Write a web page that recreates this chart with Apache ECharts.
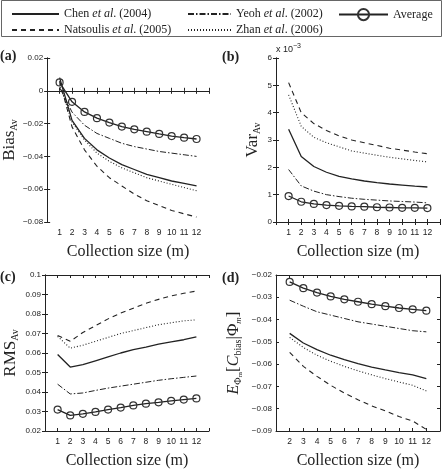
<!DOCTYPE html>
<html>
<head>
<meta charset="utf-8">
<script src="https://cdn.jsdelivr.net/npm/echarts@6/dist/echarts.min.js"></script>
<style>html,body{margin:0;padding:0;background:#fff}#c{width:443px;height:470px}</style>
</head>
<body>
<div id="c"></div>
<script>
// ---- data ----
const sizesABC = [1,2,3,4,5,6,7,8,9,10,11,12];
const sizesD = [2,3,4,5,6,7,8,9,10,11,12];
const seriesNames = ['Chen','Natsoulis','Yeoh','Zhan','Average'];
const legendLabels = {
  Chen: 'Chen {i|et al}. (2004)',
  Natsoulis: 'Natsoulis {i|et al}. (2005)',
  Yeoh: 'Yeoh {i|et al}. (2002)',
  Zhan: 'Zhan {i|et al}. (2006)',
  Average: 'Average'
};
// (a) Bias_Av
const biasChen      = [0.008,-0.018,-0.029,-0.036,-0.041,-0.045,-0.048,-0.051,-0.053,-0.055,-0.0565,-0.058];
const biasNatsoulis = [0.006,-0.022,-0.036,-0.046,-0.053,-0.058,-0.063,-0.067,-0.070,-0.073,-0.075,-0.077];
const biasYeoh      = [0.002,-0.013,-0.021,-0.026,-0.029,-0.032,-0.034,-0.0355,-0.037,-0.038,-0.039,-0.040];
const biasZhan      = [0.004,-0.019,-0.030,-0.038,-0.043,-0.047,-0.050,-0.053,-0.055,-0.057,-0.059,-0.061];
const biasAverage   = [0.0051,-0.0067,-0.0129,-0.0167,-0.0194,-0.0218,-0.0235,-0.0249,-0.0263,-0.0276,-0.0286,-0.0294];
// (b) Var_Av (x 10^-3)
const varChen      = [3.39,2.40,2.03,1.82,1.67,1.58,1.50,1.44,1.39,1.35,1.31,1.28];
const varNatsoulis = [5.10,4.00,3.60,3.35,3.15,3.00,2.90,2.80,2.70,2.63,2.56,2.50];
const varYeoh      = [1.92,1.32,1.13,1.00,0.93,0.87,0.83,0.80,0.77,0.75,0.73,0.70];
const varZhan      = [4.65,3.50,3.10,2.90,2.75,2.60,2.52,2.44,2.37,2.31,2.25,2.20];
const varAverage   = [0.95,0.74,0.66,0.62,0.59,0.57,0.56,0.54,0.53,0.52,0.52,0.51];
// (c) RMS_Av
const rmsChen      = [0.0592,0.0528,0.054,0.056,0.058,0.060,0.0617,0.063,0.0645,0.0657,0.0668,0.0683];
const rmsNatsoulis = [0.069,0.066,0.0705,0.074,0.0775,0.0805,0.083,0.0855,0.0875,0.0893,0.0906,0.0918];
const rmsYeoh      = [0.044,0.039,0.0395,0.0408,0.042,0.043,0.044,0.045,0.046,0.0468,0.0475,0.0482];
const rmsZhan      = [0.0685,0.0625,0.064,0.066,0.068,0.070,0.0715,0.073,0.0745,0.0755,0.0765,0.077];
const rmsAverage   = [0.031,0.028,0.0288,0.0298,0.031,0.032,0.0331,0.034,0.0347,0.0355,0.0361,0.0367];
// (d) E[C_bias | Phi_m]
const eChen      = [-0.0462,-0.0505,-0.0535,-0.056,-0.058,-0.0598,-0.0613,-0.0626,-0.0638,-0.0648,-0.0665];
const eNatsoulis = [-0.0547,-0.061,-0.0655,-0.0695,-0.073,-0.076,-0.0787,-0.081,-0.0835,-0.0855,-0.0893];
const eYeoh      = [-0.0313,-0.034,-0.0365,-0.038,-0.0395,-0.041,-0.042,-0.043,-0.044,-0.045,-0.0455];
const eZhan      = [-0.048,-0.0525,-0.056,-0.0587,-0.061,-0.063,-0.0648,-0.0665,-0.068,-0.0695,-0.072];
const eAverage   = [-0.0231,-0.0259,-0.0279,-0.0296,-0.0309,-0.032,-0.0331,-0.034,-0.0348,-0.0354,-0.036];

// ---- layout / styles ----
const INK = '#222';
const serif = 'Liberation Serif';
const sans = 'Liberation Sans';
const lineStyles = {
  Chen: {type:'solid', width:1.3},
  Natsoulis: {type:[5,4], width:1.1},
  Yeoh: {type:[6,2,1.5,2], width:1},
  Zhan: {type:[1,2], width:1.1},
  Average: {type:'solid', width:1.3}
};
const grids = [
  {left:45, top:58, width:164, height:164},
  {left:276, top:58, width:164, height:164},
  {left:45, top:275, width:164, height:166},
  {left:276, top:275, width:164, height:166}
];
const panels = [
  {x:sizesABC, xmin:0, xmax:13, ymin:-0.08, ymax:0.02, yint:0.02, data:[biasChen,biasNatsoulis,biasYeoh,biasZhan,biasAverage],
   name:'{n|Bias}{sub|Av}', gap:26},
  {x:sizesABC, xmin:0, xmax:13, ymin:0, ymax:6, yint:1, data:[varChen,varNatsoulis,varYeoh,varZhan,varAverage],
   name:'{n|Var}{sub|Av}', gap:14},
  {x:sizesABC, xmin:0, xmax:13, ymin:0.02, ymax:0.1, yint:0.01, data:[rmsChen,rmsNatsoulis,rmsYeoh,rmsZhan,rmsAverage],
   name:'{n|RMS}{sub|Av}', gap:25},
  {x:sizesD, xmin:1, xmax:13, ymin:-0.09, ymax:-0.02, yint:0.01, data:[eChen,eNatsoulis,eYeoh,eZhan,eAverage],
   name:'{ei|E}{sub|Φ}{ssub|m}{n|[}{ei|C}{sub|bias}{n||}{n|Φ}{nsub|m}{n|]}', gap:32}
];

const fmtY = v => {
  const r = parseFloat(Number(v).toFixed(4));
  return r === 0 ? '0' : String(r).replace('-', '\u2212');
};
const nameRich = {
  sub: {fontFamily: serif, fontSize: 10, color: INK, padding: [9,0,0,0]},
  ssub: {fontFamily: serif, fontSize: 7, color: INK, padding: [13,0,0,0]},
  nsub: {fontFamily: serif, fontSize: 9, fontStyle:'italic', color: INK, padding: [9,0,0,0]},
  ei: {fontFamily: serif, fontSize: 16, fontStyle: 'italic', color: INK},
  n: {fontFamily: serif, fontSize: 17, color: INK}
};

const xAxes = [], yAxes = [], series = [];
panels.forEach((p, i) => {
  const axisLine = {show:true, lineStyle:{color:INK, width:1}};
  const tick = {show:true, inside:true, length:3, lineStyle:{color:INK}};
  xAxes.push({
    type:'value', gridIndex:i, min:p.xmin, max:p.xmax, interval:1, position:'bottom',
    axisLine, axisTick: tick, splitLine:{show:false},
    axisLabel:{color:INK, fontFamily:sans, fontSize:8.5, margin:6,
      formatter: v => (v === p.xmin || v === p.xmax) ? '' : String(v)},
    name:'{t|Collection size (m)}', nameLocation:'middle', nameGap:22,
    nameTextStyle:{fontFamily:serif, fontSize:16, fontWeight:'normal', color:INK,
      rich:{t:{fontFamily:serif, fontSize:16, fontWeight:'normal', color:INK}}}
  });
  xAxes.push({
    type:'value', gridIndex:i, min:p.xmin, max:p.xmax, interval:1, position:'top',
    axisLine, axisTick: tick, axisLabel:{show:false}, splitLine:{show:false}
  });
  yAxes.push({
    type:'value', gridIndex:i, min:p.ymin, max:p.ymax, interval:p.yint, position:'left',
    axisLine, axisTick: tick, splitLine:{show:false},
    axisLabel:{color:INK, fontFamily:sans, fontSize:8, margin:4, formatter: fmtY},
    name:p.name, nameLocation:'middle', nameGap:p.gap,
    nameTextStyle:{fontFamily:serif, fontSize:17, fontWeight:'normal', color:INK, rich: nameRich}
  });
  yAxes.push({
    type:'value', gridIndex:i, min:p.ymin, max:p.ymax, interval:p.yint, position:'right',
    axisLine, axisTick: tick, axisLabel:{show:false}, splitLine:{show:false}
  });
  seriesNames.forEach((n, k) => {
    const isAvg = n === 'Average';
    series.push({
      type:'line', name:n, xAxisIndex:2*i, yAxisIndex:2*i,
      data: p.x.map((xv, j) => [xv, p.data[k][j]]),
      symbol: isAvg ? 'circle' : 'none', symbolSize: 7, showSymbol: isAvg,
      lineStyle: Object.assign({color:INK}, lineStyles[n]),
      itemStyle: {color:'rgba(255,255,255,0)', borderColor:'#333', borderWidth:1.2},
      z: isAvg ? 5 : 3, animation:false, silent:true
    });
  });
});

const legendText = {fontFamily:serif, fontSize:12, color:INK,
  rich:{i:{fontFamily:serif, fontSize:12, fontStyle:'italic', color:INK}}};
const legItem = n => n === 'Average' ? {name:n} : {name:n, itemStyle:{opacity:0, borderWidth:0}};
const mkLegend = (names, left, w) => ({
  data: names.map(legItem), left, top:3, orient:'vertical', itemWidth:w, itemHeight:14, itemGap:4,
  formatter: n => legendLabels[n], textStyle: legendText, selectedMode:false
});

const option = {
  backgroundColor:'#fff',
  animation:false,
  grid: grids,
  xAxis: xAxes,
  yAxis: yAxes,
  series,
  legend: [
    mkLegend(['Chen','Natsoulis'], 6, 47),
    mkLegend(['Yeoh','Zhan'], 182, 43),
    mkLegend(['Average'], 333, 49)
  ],
  graphic: [
    {type:'rect', shape:{x:1.5, y:0.5, width:440, height:36}, style:{fill:'none', stroke:'#666', lineWidth:1}, silent:true},
    {type:'text', left:0, top:49, style:{text:'(a)', font:'bold 14px "Liberation Serif"', fill:INK}},
    {type:'text', left:222, top:50, style:{text:'(b)', font:'bold 14px "Liberation Serif"', fill:INK}},
    {type:'text', left:0, top:270, style:{text:'(c)', font:'bold 14px "Liberation Serif"', fill:INK}},
    {type:'text', left:222, top:271, style:{text:'(d)', font:'bold 14px "Liberation Serif"', fill:INK}},
    {type:'text', left:276, top:43, style:{
      text:'x 10{s|−3}', fill:INK, font:'9px "Liberation Sans"',
      rich:{s:{fontSize:7, fontFamily:sans, fill:INK, padding:[0,0,6,0]}}}}
  ]
};
const chart = echarts.init(document.getElementById('c'), null, {renderer:'canvas'});
chart.setOption(option);
</script>
</body>
</html>
